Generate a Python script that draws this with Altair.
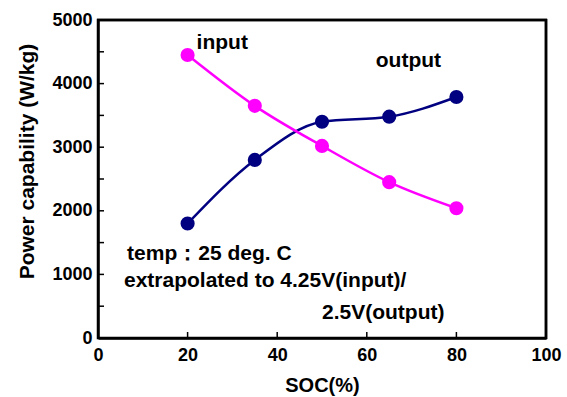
import altair as alt
import pandas as pd

soc = [20, 35, 50, 65, 80]
input_w = [4450, 3650, 3020, 2450, 2040]
output_w = [1800, 2800, 3400, 3480, 3790]

y_minor_ticks = [500, 1000, 1500, 2000, 2500, 3000, 3500, 4000, 4500]
x_ticks = [20, 40, 60, 80]

ann_text = ["input", "output", "temp\uff1a25 deg. C", "extrapolated to 4.25V(input)/", "2.5V(output)"]
ann_x = [22.0, 62.0, 6.5, 5.8, 50.0]
ann_y = [4640, 4360, 1320, 900, 395]

FONT = "Liberation Sans"

rows = []
for s, v in zip(soc, output_w):
    rows.append({"soc": s, "val": v, "series": "output"})
for s, v in zip(soc, input_w):
    rows.append({"soc": s, "val": v, "series": "input"})
df = pd.DataFrame(rows)

xs = alt.Scale(domain=[0, 100], nice=False)
ys = alt.Scale(domain=[0, 5000], nice=False)
cs = alt.Scale(domain=["output", "input"], range=["#000080", "#FF00FF"])

x_enc = alt.X("soc:Q", scale=xs,
              axis=alt.Axis(title="SOC(%)", values=[0, 20, 40, 60, 80, 100], format="d", ticks=False,
                            domain=True, domainColor="black", domainWidth=2.5, grid=False,
                            labelFlush=False, labelFont=FONT,
                            labelFontWeight="bold", labelFontSize=18, labelColor="black", labelPadding=8,
                            titleFont=FONT, titleFontWeight="bold", titleFontSize=20,
                            titleColor="black", titlePadding=11))
y_enc = alt.Y("val:Q", scale=ys,
              axis=alt.Axis(title="Power capability (W/kg)", values=[0, 1000, 2000, 3000, 4000, 5000],
                            format="d", ticks=False, domain=True, domainColor="black", domainWidth=2.5,
                            grid=False, labelFlush=False,
                            labelFont=FONT, labelFontWeight="bold", labelFontSize=18, labelColor="black",
                            labelPadding=6, titleFont=FONT, titleFontWeight="bold", titleFontSize=21,
                            titleColor="black", titleY=141, titleX=-71, titleBaseline="middle"))

top_edge = alt.Chart(pd.DataFrame({"v": [5000]})).mark_rule(color="#000000", strokeWidth=2.5).encode(
    y=alt.Y("v:Q", scale=ys), x=alt.value(-1), x2=alt.value(449))
right_edge = alt.Chart(pd.DataFrame({"v": [100]})).mark_rule(color="#000000", strokeWidth=2.5).encode(
    x=alt.X("v:Q", scale=xs), y=alt.value(-1), y2=alt.value(319))

lines = alt.Chart(df).mark_line(strokeWidth=2.5, interpolate="monotone").encode(
    x=x_enc, y=y_enc, color=alt.Color("series:N", scale=cs, legend=None), detail="series:N")
points = alt.Chart(df).mark_circle(size=200, opacity=1).encode(
    x=alt.X("soc:Q", scale=xs), y=alt.Y("val:Q", scale=ys),
    color=alt.Color("series:N", scale=cs, legend=None))

ytick_df = pd.DataFrame({"v": y_minor_ticks})
yticks = alt.Chart(ytick_df).mark_rule(color="#000000", strokeWidth=1.5).encode(
    y=alt.Y("v:Q", scale=ys), x=alt.value(0), x2=alt.value(6))
xtick_df = pd.DataFrame({"v": x_ticks})
xticks = alt.Chart(xtick_df).mark_rule(color="#000000", strokeWidth=1.5).encode(
    x=alt.X("v:Q", scale=xs), y=alt.value(318), y2=alt.value(312))

ann_df = pd.DataFrame({"t": ann_text, "x": ann_x, "y": ann_y})
ann = alt.Chart(ann_df).mark_text(align="left", baseline="middle", font=FONT, fontWeight="bold",
                                  fontSize=21, color="black").encode(
    x=alt.X("x:Q", scale=xs), y=alt.Y("y:Q", scale=ys), text="t:N")

chart = alt.layer(lines, points, yticks, xticks, top_edge, right_edge, ann).properties(
    width=448, height=318,
    background="white",
    autosize=alt.AutoSizeParams(type="none"),
    padding={"left": 98, "top": 20, "right": 21, "bottom": 59},
).configure_view(stroke="#000000", strokeWidth=2.5)

chart.save("out.html", embed_options={"renderer": "svg", "actions": False})
